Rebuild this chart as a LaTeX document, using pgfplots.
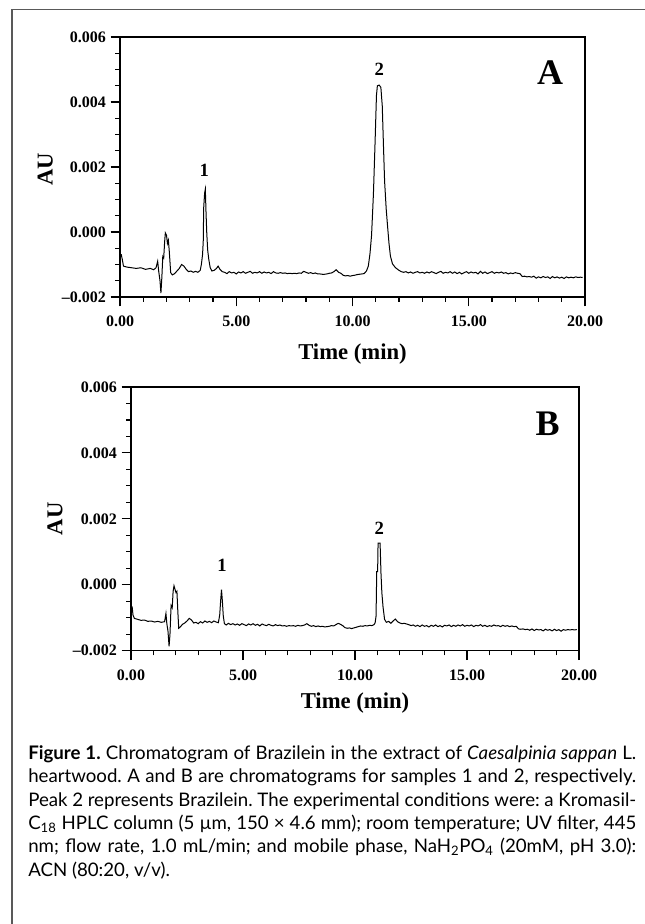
\documentclass[border=0pt]{standalone}
\usepackage{fontspec}
\usepackage{pgfplots}
\pgfplotsset{compat=1.18}
\setmainfont{Liberation Serif}
\newfontfamily\capfont{Lato}

% chromatogram A (time in min, absorbance in AU)
\pgfplotstableread{
t a
0.05 -0.00068
0.10 -0.00085
0.15 -0.00105
0.30 -0.00108
0.50 -0.00110
0.70 -0.00112
0.90 -0.00110
1.10 -0.00115
1.30 -0.00112
1.45 -0.00116
1.55 -0.00110
1.62 -0.00090
1.66 -0.00118
1.72 -0.00150
1.76 -0.00188
1.80 -0.00140
1.84 -0.00075
1.88 -0.00080
1.92 -0.00030
1.95 -0.00003
2.00 -0.00010
2.04 -0.00035
2.08 -0.00025
2.12 -0.00060
2.18 -0.00125
2.25 -0.00132
2.35 -0.00128
2.45 -0.00120
2.55 -0.00112
2.65 -0.00100
2.75 -0.00105
2.85 -0.00115
2.95 -0.00122
3.05 -0.00120
3.15 -0.00124
3.25 -0.00121
3.35 -0.00124
3.45 -0.00118
3.50 -0.00100
3.55 -0.00070
3.58 -0.00030
3.60 0.00075
3.64 0.00120
3.67 0.00132
3.70 0.00060
3.73 0.00000
3.77 -0.00055
3.82 -0.00085
3.88 -0.00110
3.95 -0.00120
4.05 -0.00118
4.15 -0.00112
4.22 -0.00105
4.30 -0.00115
4.40 -0.00122
4.50 -0.00124
4.60 -0.00128
4.70 -0.00122
4.80 -0.00126
4.90 -0.00124
5.00 -0.00129
5.10 -0.00123
5.20 -0.00126
5.30 -0.00122
5.40 -0.00127
5.50 -0.00124
5.60 -0.00121
5.70 -0.00127
5.80 -0.00124
5.90 -0.00126
6.00 -0.00122
6.10 -0.00127
6.20 -0.00123
6.30 -0.00126
6.40 -0.00124
6.50 -0.00128
6.60 -0.00122
6.70 -0.00126
6.80 -0.00127
6.90 -0.00125
7.00 -0.00127
7.10 -0.00126
7.20 -0.00128
7.30 -0.00127
7.40 -0.00128
7.50 -0.00127
7.60 -0.00128
7.70 -0.00126
7.80 -0.00127
7.90 -0.00121
8.00 -0.00124
8.10 -0.00127
8.20 -0.00125
8.30 -0.00128
8.40 -0.00126
8.50 -0.00129
8.60 -0.00129
8.70 -0.00130
8.80 -0.00130
8.90 -0.00129
9.00 -0.00127
9.10 -0.00126
9.20 -0.00122
9.30 -0.00116
9.40 -0.00124
9.50 -0.00127
9.60 -0.00133
9.70 -0.00135
9.80 -0.00134
9.90 -0.00136
10.00 -0.00134
10.10 -0.00133
10.20 -0.00131
10.30 -0.00130
10.40 -0.00129
10.50 -0.00128
10.60 -0.00120
10.68 -0.00105
10.75 -0.00068
10.82 -0.00010
10.90 0.00117
10.97 0.00274
11.03 0.00420
11.07 0.00450
11.15 0.00452
11.22 0.00445
11.28 0.00388
11.33 0.00270
11.38 0.00157
11.45 0.00070
11.50 0.00025
11.57 -0.00035
11.63 -0.00074
11.72 -0.00098
11.85 -0.00110
12.00 -0.00118
12.10 -0.00122
12.20 -0.00124
12.30 -0.00122
12.40 -0.00126
12.50 -0.00123
12.60 -0.00127
12.70 -0.00124
12.80 -0.00122
12.90 -0.00126
13.00 -0.00124
13.10 -0.00127
13.20 -0.00123
13.30 -0.00126
13.40 -0.00122
13.50 -0.00125
13.60 -0.00128
13.70 -0.00124
13.80 -0.00121
13.90 -0.00127
14.00 -0.00124
14.10 -0.00126
14.20 -0.00122
14.30 -0.00127
14.40 -0.00123
14.50 -0.00128
14.60 -0.00124
14.70 -0.00129
14.80 -0.00125
14.90 -0.00122
15.00 -0.00127
15.10 -0.00123
15.20 -0.00126
15.30 -0.00124
15.40 -0.00129
15.50 -0.00121
15.60 -0.00127
15.70 -0.00123
15.80 -0.00128
15.90 -0.00125
16.00 -0.00122
16.10 -0.00127
16.20 -0.00124
16.30 -0.00126
16.40 -0.00123
16.50 -0.00127
16.60 -0.00125
16.70 -0.00129
16.80 -0.00126
16.90 -0.00128
17.00 -0.00125
17.10 -0.00127
17.20 -0.00128
17.30 -0.00137
17.40 -0.00136
17.50 -0.00138
17.60 -0.00137
17.70 -0.00139
17.80 -0.00136
17.90 -0.00142
18.00 -0.00138
18.10 -0.00141
18.20 -0.00137
18.30 -0.00140
18.40 -0.00138
18.50 -0.00143
18.60 -0.00137
18.70 -0.00141
18.80 -0.00138
18.90 -0.00142
19.00 -0.00139
19.10 -0.00143
19.20 -0.00138
19.30 -0.00141
19.40 -0.00139
19.50 -0.00141
19.60 -0.00138
19.70 -0.00140
19.80 -0.00139
19.90 -0.00140
}\chromA

% chromatogram B
\pgfplotstableread{
t a
0.05 -0.00066
0.09 -0.00092
0.15 -0.00102
0.30 -0.00105
0.45 -0.00108
0.60 -0.00107
0.75 -0.00111
0.90 -0.00110
1.05 -0.00113
1.20 -0.00111
1.35 -0.00114
1.50 -0.00112
1.56 -0.00087
1.60 -0.00118
1.65 -0.00140
1.70 -0.00187
1.74 -0.00150
1.79 -0.00063
1.84 -0.00070
1.88 -0.00020
1.92 -0.00003
1.97 -0.00015
2.01 -0.00024
2.05 -0.00020
2.09 -0.00080
2.13 -0.00132
2.20 -0.00128
2.30 -0.00120
2.40 -0.00116
2.50 -0.00110
2.60 -0.00102
2.70 -0.00107
2.80 -0.00116
2.90 -0.00114
3.00 -0.00118
3.10 -0.00112
3.20 -0.00116
3.30 -0.00110
3.40 -0.00114
3.50 -0.00111
3.60 -0.00115
3.70 -0.00110
3.80 -0.00113
3.90 -0.00115
3.96 -0.00092
4.00 -0.00050
4.04 -0.00015
4.08 -0.00050
4.12 -0.00095
4.17 -0.00118
4.25 -0.00122
4.35 -0.00117
4.45 -0.00121
4.55 -0.00118
4.65 -0.00122
4.75 -0.00119
4.85 -0.00123
4.95 -0.00118
5.05 -0.00121
5.15 -0.00124
5.25 -0.00119
5.35 -0.00122
5.45 -0.00118
5.55 -0.00123
5.65 -0.00120
5.75 -0.00125
5.85 -0.00119
5.95 -0.00122
6.05 -0.00124
6.15 -0.00120
6.25 -0.00123
6.35 -0.00125
6.45 -0.00121
6.55 -0.00124
6.65 -0.00122
6.75 -0.00125
6.85 -0.00124
6.95 -0.00126
7.05 -0.00124
7.15 -0.00125
7.25 -0.00124
7.35 -0.00126
7.45 -0.00123
7.55 -0.00125
7.65 -0.00124
7.75 -0.00122
7.85 -0.00118
7.95 -0.00123
8.05 -0.00126
8.15 -0.00124
8.25 -0.00127
8.35 -0.00125
8.45 -0.00127
8.55 -0.00126
8.65 -0.00128
8.75 -0.00127
8.85 -0.00126
8.95 -0.00124
9.05 -0.00125
9.15 -0.00121
9.25 -0.00117
9.35 -0.00120
9.45 -0.00124
9.55 -0.00130
9.65 -0.00132
9.75 -0.00131
9.85 -0.00133
9.95 -0.00131
10.05 -0.00129
10.15 -0.00127
10.25 -0.00125
10.35 -0.00126
10.45 -0.00124
10.55 -0.00125
10.65 -0.00123
10.75 -0.00124
10.85 -0.00121
10.90 -0.00115
10.94 -0.00095
10.97 0.00040
11.01 0.00040
11.03 0.00126
11.12 0.00126
11.16 0.00035
11.20 -0.00025
11.25 -0.00066
11.32 -0.00105
11.40 -0.00114
11.50 -0.00111
11.60 -0.00117
11.70 -0.00110
11.80 -0.00104
11.90 -0.00112
12.00 -0.00116
12.10 -0.00118
12.20 -0.00117
12.30 -0.00119
12.40 -0.00121
12.50 -0.00124
12.60 -0.00122
12.70 -0.00126
12.80 -0.00123
12.90 -0.00127
13.00 -0.00122
13.10 -0.00126
13.20 -0.00124
13.30 -0.00128
13.40 -0.00123
13.50 -0.00126
13.60 -0.00122
13.70 -0.00127
13.80 -0.00124
13.90 -0.00128
14.00 -0.00123
14.10 -0.00125
14.20 -0.00122
14.30 -0.00127
14.40 -0.00123
14.50 -0.00126
14.60 -0.00122
14.70 -0.00125
14.80 -0.00121
14.90 -0.00126
15.00 -0.00123
15.10 -0.00125
15.20 -0.00122
15.30 -0.00127
15.40 -0.00123
15.50 -0.00125
15.60 -0.00121
15.70 -0.00126
15.80 -0.00123
15.90 -0.00127
16.00 -0.00124
16.10 -0.00126
16.20 -0.00122
16.30 -0.00125
16.40 -0.00124
16.50 -0.00127
16.60 -0.00123
16.70 -0.00126
16.80 -0.00124
16.90 -0.00127
17.00 -0.00125
17.10 -0.00127
17.20 -0.00126
17.30 -0.00134
17.40 -0.00135
17.50 -0.00134
17.60 -0.00136
17.70 -0.00135
17.80 -0.00138
17.90 -0.00134
18.00 -0.00139
18.10 -0.00135
18.20 -0.00137
18.30 -0.00136
18.40 -0.00140
18.50 -0.00135
18.60 -0.00138
18.70 -0.00136
18.80 -0.00140
18.90 -0.00135
19.00 -0.00139
19.10 -0.00136
19.20 -0.00141
19.30 -0.00136
19.40 -0.00138
19.50 -0.00136
19.60 -0.00137
19.70 -0.00136
19.80 -0.00137
19.90 -0.00136
}\chromB

\pgfplotsset{
  chrom/.style={
    scale only axis,
    xmin=0, xmax=20,
    ymin=-0.002, ymax=0.006,
    scaled x ticks=false, scaled y ticks=false,
    axis line style={line width=1.1pt},
    tick align=outside,
    xtick pos=left, ytick pos=left,
    xtick={0,5,10,15,20},
    xticklabels={0.00,5.00,10.00,15.00,20.00},
    ytick={-0.002,0,0.002,0.004,0.006},
    yticklabels={–0.002,0.000,0.002,0.004,0.006},
    minor x tick num=4,
    minor y tick num=3,
    major tick length=7pt,
    minor tick length=3.5pt,
    every tick/.style={black, line width=0.8pt},
    tick label style={font=\bfseries\fontsize{12}{12}\selectfont},
    xticklabel style={yshift=-3.5pt},
    xlabel={Time (min)},
    xlabel style={font=\bfseries\fontsize{17}{17}\selectfont,
      at={(axis description cs:0.5,0)}, anchor=center, yshift=-43pt},
    clip=false,
  },
  trace/.style={black, line width=0.75pt, no markers},
}
\tikzset{
  peak/.style={font=\bfseries\fontsize{14}{14}\selectfont},
  panel/.style={font=\bfseries\fontsize{27}{27}\selectfont},
  aulabel/.style={rotate=90, font=\bfseries\fontsize{17}{17}\selectfont},
}

\begin{document}
\begin{tikzpicture}
  \useasboundingbox (0,0) rectangle (483pt,-693pt);
  % outer frame, cut off at the right and bottom edges
  \draw[black!65, line width=1.1pt] (9pt,-720pt) -- (9pt,-7.1pt) -- (520pt,-7.1pt);

  \begin{axis}[chrom, at={(90pt,-222.75pt)}, anchor=south west,
      width=348.75pt, height=195pt]
    \addplot[trace] table[x=t, y=a] {\chromA};
    \node[peak] at (axis cs:3.62,0.0019) {1};
    \node[peak] at (axis cs:11.15,0.0050) {2};
    \node[panel] at (axis cs:18.5,0.0049) {A};
    \node[aulabel] at ([xshift=-56pt]axis description cs:0,0.49) {AU};
  \end{axis}

  \begin{axis}[chrom, at={(98.25pt,-488pt)}, anchor=south west,
      width=336pt, height=197.75pt,
      xlabel style={yshift=4pt}]
    \addplot[trace] table[x=t, y=a] {\chromB};
    \node[peak] at (axis cs:4.06,0.0006) {1};
    \node[peak] at (axis cs:11.08,0.0017) {2};
    \node[panel] at (axis cs:18.6,0.0049) {B};
    \node[aulabel] at ([xshift=-57pt]axis description cs:0,0.5) {AU};
  \end{axis}

  \node[anchor=north west, inner sep=0pt, text width=456pt, align=justify,
        font=\capfont\fontsize{14}{17.5}\selectfont] at (21pt,-559pt)
  {\frenchspacing
   \textbf{Figure 1.} Chromatogram of Brazilein in the extract of \textit{Caesalpinia sappan} L.\linebreak
   heartwood. A and B are chromatograms for samples 1 and 2, respectively.\linebreak
   Peak 2 represents Brazilein. The experimental conditions were: a Kromasil-\linebreak
   C\textsubscript{18} HPLC column (5 µm, 150 × 4.6 mm); room temperature; UV filter, 445\linebreak
   nm; flow rate, 1.0 mL/min; and mobile phase, NaH\textsubscript{2}PO\textsubscript{4} (20mM, pH 3.0):\linebreak
   ACN (80:20, v/v).};
\end{tikzpicture}
\end{document}
